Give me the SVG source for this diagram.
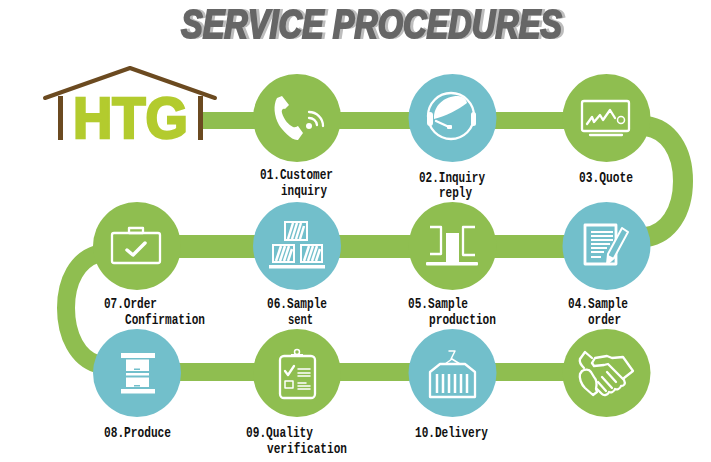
<svg xmlns="http://www.w3.org/2000/svg" width="711" height="462" viewBox="0 0 711 462">
<style>
.g{fill:#8fbe50}.t{fill:#72bfcb}
.bar{fill:#8fbe50}
.curve{fill:none;stroke:#8fbe50}
.i{fill:none;stroke:#fff;stroke-width:2.300;stroke-linejoin:round;stroke-linecap:round}
.f{fill:#fff;stroke:none}
.l{font-family:"Liberation Mono",monospace;font-weight:700;font-size:14px;fill:#111}
.ti{font-family:"Liberation Sans",Arial,sans-serif;font-weight:700;font-style:italic;font-size:41px}
</style>
<defs>
<filter id="shade" x="-5%" y="-20%" width="110%" height="140%" color-interpolation-filters="sRGB">
<feFlood flood-color="#bdbdbd"/>
<feComposite in2="SourceAlpha" operator="in"/>
<feOffset dx="3" dy="0" result="s"/>
<feMerge><feMergeNode in="s"/><feMergeNode in="SourceGraphic"/></feMerge>
</filter>
</defs>
<rect width="711" height="462" fill="#fff"/>
<g id="title">
<text class="ti" x="181" y="38" textLength="381" lengthAdjust="spacingAndGlyphs" fill="#666" stroke="#666" stroke-width="2" filter="url(#shade)">SERVICE PROCEDURES</text>
</g>
<g id="connectors">
<rect class="bar" x="200" y="112" width="410" height="17"/>
<rect class="bar" x="137" y="235" width="470" height="23"/>
<rect class="bar" x="137" y="363" width="470" height="18"/>
<path class="curve" stroke-width="20" d="M646,126C668,129 683,150 683,181C683,212 668,234 646,237"/>
<path class="curve" stroke-width="18" d="M97,254C78,260 66,280 66,308C66,336 78,358 97,364"/>
</g>
<g id="logo">
<text x="73" y="138" textLength="115" lengthAdjust="spacingAndGlyphs" font-family="Liberation Sans,Arial,sans-serif" font-weight="700" font-size="57" fill="#b3cb2e" stroke="#b3cb2e" stroke-width="2.500">HTG</text>
<path d="M45,98L130,68L215,98" fill="none" stroke="#6b4a20" stroke-width="4" stroke-linejoin="round" stroke-linecap="round"/>
<rect x="58" y="96" width="5" height="44" fill="#6b4a20"/>
<rect x="198" y="96" width="5" height="44" fill="#6b4a20"/>
</g>
<g id="n01">
<circle class="g" cx="297" cy="118" r="44"/>
<path class="f" d="M277,98L282,96L289,105L285,109C283,108 281,110 282,113C284,120 289,125 293,127C296,128 297,126 298,126L303,133L298,140C292,141 282,130 279,125C274,116 273,105 277,98Z"/>
<circle class="f" cx="309" cy="126" r="3"/>
<path class="i" d="M309,118A8,8 0 0 1 317,125M309,112A14,14 0 0 1 323,126"/>
<text class="l" x="260" y="179" textLength="73" lengthAdjust="spacingAndGlyphs">01.Customer</text>
<text class="l" x="281" y="195" textLength="46" lengthAdjust="spacingAndGlyphs">inquiry</text>
</g>
<g id="n02">
<circle class="t" cx="452.500" cy="118" r="44"/>
<circle class="i" cx="451" cy="116" r="23"/>
<path class="f" d="M434,119C433,106 444,96 458,96C463,96 466,99 467,103C458,110 446,116 434,119Z"/>
<rect class="f" x="427" y="112" width="6" height="14" rx="3"/>
<rect class="f" x="471" y="112" width="5" height="14" rx="2.500"/>
<path class="i" d="M436,121L449,127"/>
<rect class="f" x="447" y="125" width="5" height="4" rx="1"/>
<text class="l" x="419" y="182" textLength="66" lengthAdjust="spacingAndGlyphs">02.Inquiry</text>
<text class="l" x="439" y="197" textLength="33" lengthAdjust="spacingAndGlyphs">reply</text>
</g>
<g id="n03">
<circle class="g" cx="606.500" cy="118" r="44"/>
<rect class="i" x="582" y="101" width="47" height="30" rx="2"/>
<path class="i" d="M590,135H622"/>
<path class="i" d="M587,124L592,117L594,122L600,115L603,120L610,110L615,118"/>
<circle class="i" cx="621" cy="120" r="3.500" style="stroke-width:1.500"/>
<text class="l" x="579" y="182" textLength="54" lengthAdjust="spacingAndGlyphs">03.Quote</text>
</g>
<g id="n04">
<circle class="t" cx="606.500" cy="246" r="44"/>
<path class="i" d="M585,225H616V264H585Z" style="stroke-width:2.800;stroke-linecap:butt"/>
<path class="i" d="M591,232H613M591,236H613M591,240H613M591,244H610M591,248H607M591,252H604M591,257H601" style="stroke-width:1.800;stroke-linecap:butt"/>
<path d="M622,228L628,232L614,258L607,264L608,254Z" fill="#72bfcb" stroke="#fff" stroke-width="2" stroke-linejoin="round"/>
<path class="f" d="M607,265L608,255L614,258Z"/>
<text class="l" x="568" y="308" textLength="60" lengthAdjust="spacingAndGlyphs">04.Sample</text>
<text class="l" x="588" y="324" textLength="33" lengthAdjust="spacingAndGlyphs">order</text>
</g>
<g id="n05">
<circle class="g" cx="452.500" cy="246" r="44"/>
<path class="i" d="M430,227H441V254H430M475,227H463V255H475" style="stroke-linecap:butt"/>
<rect class="f" x="446" y="233" width="13" height="30"/>
<rect class="f" x="426" y="262" width="52" height="3.500" rx="1"/>
<text class="l" x="408" y="308" textLength="60" lengthAdjust="spacingAndGlyphs">05.Sample</text>
<text class="l" x="429" y="324" textLength="67" lengthAdjust="spacingAndGlyphs">production</text>
</g>
<g id="n06">
<circle class="t" cx="297" cy="246" r="44"/>
<g id="boxes" stroke="#fff" fill="none">
<rect x="285" y="222" width="22" height="18" stroke-width="2"/>
<rect x="273" y="245" width="21" height="17" stroke-width="2"/>
<rect x="301" y="245" width="21" height="17" stroke-width="2"/>
<path stroke-width="2.500" d="M288,239L293,223M292,239L297,223M296,239L301,223M300,239L304,226M276,261L281,246M280,261L285,246M284,261L289,246M288,261L292,249M304,261L309,246M308,261L313,246M312,261L317,246M316,261L320,249"/>
</g>
<rect class="f" x="269" y="265" width="56" height="3.500"/>
<text class="l" x="267" y="308" textLength="60" lengthAdjust="spacingAndGlyphs">06.Sample</text>
<text class="l" x="288" y="324" textLength="25" lengthAdjust="spacingAndGlyphs">sent</text>
</g>
<g id="n07">
<circle class="g" cx="137" cy="246" r="44"/>
<rect class="i" x="112" y="233" width="48" height="30" rx="2"/>
<rect class="i" x="129" y="228" width="14" height="5"/>
<path class="i" style="stroke-width:3.500" d="M127,250L133,255L145,243"/>
<text class="l" x="104" y="308" textLength="53" lengthAdjust="spacingAndGlyphs">07.Order</text>
<text class="l" x="125" y="324" textLength="80" lengthAdjust="spacingAndGlyphs">Confirmation</text>
</g>
<g id="n08">
<circle class="t" cx="137" cy="373" r="44"/>
<rect class="f" x="121" y="353" width="34" height="5"/>
<rect class="f" x="121" y="389" width="34" height="4.500"/>
<rect class="f" x="126" y="359.500" width="23" height="11.500"/>
<rect class="f" x="126" y="373" width="23" height="2.500"/>
<rect class="f" x="126" y="377.500" width="23" height="9.500"/>
<rect class="t" x="134" y="368.500" width="6" height="1.500"/>
<rect class="t" x="134" y="385" width="6" height="1.500"/>
<text class="l" x="104" y="437" textLength="67" lengthAdjust="spacingAndGlyphs">08.Produce</text>
</g>
<g id="n09">
<circle class="g" cx="297" cy="373" r="44"/>
<rect class="i" x="280" y="356" width="35" height="42" rx="4"/>
<circle class="i" cx="297" cy="352" r="2.500" style="stroke-width:1.500"/>
<path class="f" d="M291,354H303V357H291Z"/>
<path class="i" d="M285,371L288,375L294,366"/>
<path class="i" d="M298,369H310M298,373H310M298,376H310M298,383H306M298,386H310M298,389H310" style="stroke-width:1.500"/>
<rect class="i" x="285" y="381" width="8" height="7" style="stroke-width:1.500"/>
<text class="l" x="246" y="437" textLength="67" lengthAdjust="spacingAndGlyphs">09.Quality</text>
<text class="l" x="267" y="453" textLength="80" lengthAdjust="spacingAndGlyphs">verification</text>
</g>
<g id="n10">
<circle class="t" cx="452.500" cy="373" r="44"/>
<path class="i" d="M440,364H465L475,372V397H430V372Z" style="stroke-linecap:butt"/>
<path class="i" d="M437,374V393M443,374V393M449,374V393M455,374V393M461,374V393M467,374V393" style="stroke-width:2.500;stroke-linecap:butt"/>
<path class="i" d="M449,351H455L453,355L451,359M445,364L452,359L460,364" style="stroke-width:1.500"/>
<text class="l" x="415" y="437" textLength="73" lengthAdjust="spacingAndGlyphs">10.Delivery</text>
</g>
<g id="n11">
<circle class="g" cx="606.500" cy="373" r="44"/>
<g class="i">
<path d="M580,359L585,352L592,358"/>
<path d="M580,359C579,362 581,365 584,368"/>
<path d="M592,363L595,358L607,356L612,358L623,357L633,371L624,378"/>
<path d="M592,363L594,366L604,365L608,364L624,380C626,384 624,386 621,386C620,389 617,390 615,389C614,392 611,393 609,392C608,395 604,396 602,394L597,389"/>
<path d="M607,372L616,382M602,377L612,388M598,382L606,391"/>
<path d="M582,371C585,369 589,369 591,372L594,377C597,380 597,384 596,389L597,392L593,395L585,388C581,384 579,378 580,374Z"/>
</g>
</g>
</svg>
